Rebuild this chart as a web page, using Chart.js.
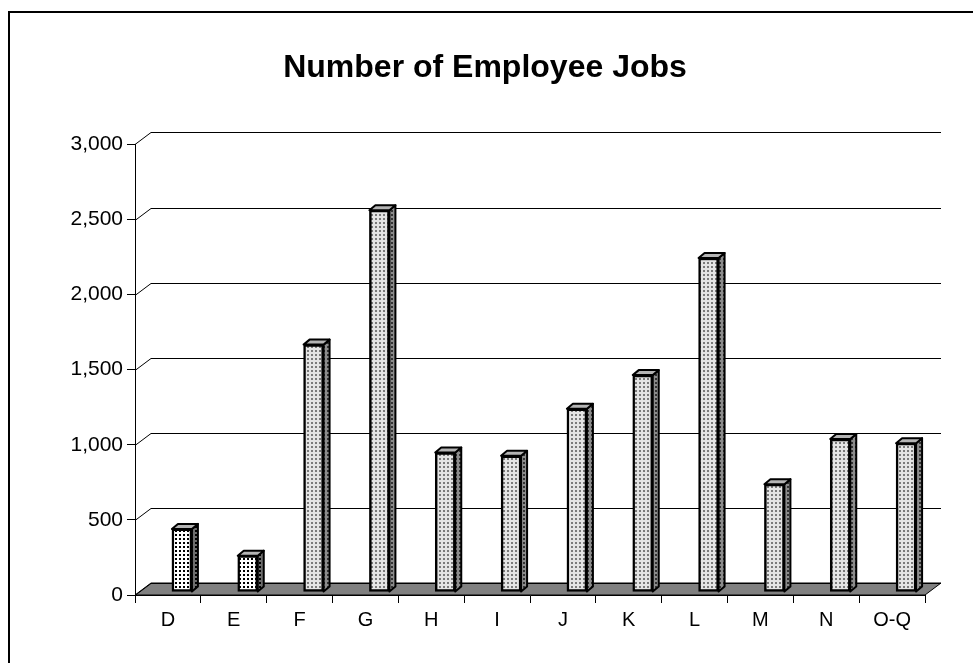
<!DOCTYPE html>
<html>
<head>
<meta charset="utf-8">
<script src="https://cdn.jsdelivr.net/npm/chart.js@4/dist/chart.umd.min.js"></script>
<style>
    html, body { margin: 0; padding: 0; background: #ffffff; }
    #wrap { width: 973px; height: 663px; position: relative; }
</style>
</head>
<body>
<div id="wrap"><canvas id="jobsChart"></canvas></div>
<script>
var categories = ['D', 'E', 'F', 'G', 'H', 'I', 'J', 'K', 'L', 'M', 'N', 'O-Q'];
var jobs = [420, 242, 1647, 2542, 929, 907, 1220, 1444, 2224, 718, 1018, 991];
var yTicks = [0, 500, 1000, 1500, 2000, 2500, 3000];
var coarseCategories = ['D', 'E'];

// 3d look: back wall offset, bar depth, bar shift
var WALL_DX = 16, WALL_DY = 12;
var BAR_DX = 6, BAR_DY = 5;
var SHIFT_X = 14, SHIFT_Y = -3;

document.addEventListener('DOMContentLoaded', function () {
    var canvas = document.getElementById('jobsChart');
    var ctx = canvas.getContext('2d');

    var coarseFront = makePattern('#ffffff', '#000000');
    var coarseSide = makePattern('#6e6e6e', '#000000');
    var fineFront = makePattern('#e4e4e4', '#7a7a7a');
    var fineSide = makePattern('#8c8c8c', '#333333');

    var fronts = categories.map(function (c) {
        return coarseCategories.indexOf(c) >= 0 ? coarseFront : fineFront;
    });
    var sides = categories.map(function (c) {
        return coarseCategories.indexOf(c) >= 0 ? coarseSide : fineSide;
    });

    var framePlugin = {
        id: 'frame',
        beforeDraw: function (chart) {
            var c = chart.ctx;
            c.save();
            c.strokeStyle = '#000000';
            c.lineWidth = 2;
            c.strokeRect(9, 12, 2000, 2000);
            c.restore();
        }
    };

    var wallPlugin = {
        id: 'wall3d',
        beforeDatasetsDraw: function (chart) {
            var c = chart.ctx;
            var a = chart.chartArea;
            var y = chart.scales.y;
            var y0 = y.getPixelForValue(0);

            c.save();
            c.fillStyle = '#808080';
            c.strokeStyle = '#000000';
            c.lineWidth = 1;
            c.beginPath();
            c.moveTo(a.left, y0);
            c.lineTo(a.left + WALL_DX, y0 - WALL_DY);
            c.lineTo(a.right + WALL_DX, y0 - WALL_DY);
            c.lineTo(a.right, y0);
            c.closePath();
            c.fill();
            c.stroke();

            yTicks.forEach(function (t) {
                var py = Math.round(y.getPixelForValue(t)) + 0.5;
                c.beginPath();
                c.moveTo(a.left, py);
                c.lineTo(a.left + WALL_DX, py - WALL_DY);
                c.lineTo(a.right + WALL_DX, py - WALL_DY);
                c.stroke();
            });
            c.restore();

            c.save();
            c.translate(SHIFT_X, SHIFT_Y);
        },
        afterDatasetsDraw: function (chart) {
            var c = chart.ctx;
            var meta = chart.getDatasetMeta(0);
            meta.data.forEach(function (bar, i) {
                var half = bar.width / 2;
                var left = bar.x - half, right = bar.x + half;
                var top = bar.y, bottom = bar.base;

                c.lineWidth = 2;
                c.lineJoin = 'round';
                c.strokeStyle = '#000000';

                c.fillStyle = sides[i];
                c.beginPath();
                c.moveTo(right, top);
                c.lineTo(right + BAR_DX, top - BAR_DY);
                c.lineTo(right + BAR_DX, bottom - BAR_DY);
                c.lineTo(right, bottom);
                c.closePath();
                c.fill();
                c.stroke();

                c.fillStyle = '#b4b4b4';
                c.beginPath();
                c.moveTo(left, top);
                c.lineTo(left + BAR_DX, top - BAR_DY);
                c.lineTo(right + BAR_DX, top - BAR_DY);
                c.lineTo(right, top);
                c.closePath();
                c.fill();
                c.stroke();
            });
            c.restore();
        }
    };

    new Chart(canvas, {
        type: 'bar',
        data: {
            labels: categories,
            datasets: [{
                label: 'Employee Jobs',
                data: jobs,
                backgroundColor: fronts,
                borderColor: '#000000',
                borderWidth: 2.5,
                borderSkipped: false,
                barThickness: 20
            }]
        },
        options: {
            responsive: true,
            maintainAspectRatio: false,
            animation: false,
            events: [],
            layout: {
                padding: { left: 45, right: 48, top: 0, bottom: 0 }
            },
            plugins: {
                legend: { display: false },
                tooltip: { enabled: false },
                title: {
                    display: true,
                    text: 'Number of Employee Jobs',
                    color: '#000000',
                    font: { family: 'Arial, "Liberation Sans", sans-serif', size: 32, weight: 'bold' },
                    padding: { top: 49, bottom: 57 }
                }
            },
            scales: {
                x: {
                    offset: true,
                    afterFit: function (scale) { scale.height = 68; },
                    grid: {
                        display: true,
                        offset: true,
                        drawOnChartArea: false,
                        drawTicks: true,
                        tickLength: 8,
                        color: '#000000'
                    },
                    border: { display: true, color: '#000000', width: 1 },
                    ticks: {
                        color: '#000000',
                        padding: 5,
                        maxRotation: 0,
                        font: { family: 'Arial, "Liberation Sans", sans-serif', size: 20 }
                    }
                },
                y: {
                    min: 0,
                    max: 3000,
                    afterFit: function (scale) { scale.width = 90; },
                    afterBuildTicks: function (scale) {
                        scale.ticks = yTicks.map(function (v) { return { value: v }; });
                    },
                    grid: {
                        display: true,
                        drawOnChartArea: false,
                        drawTicks: true,
                        tickLength: 8,
                        color: '#000000'
                    },
                    border: { display: true, color: '#000000', width: 1 },
                    ticks: {
                        color: '#000000',
                        padding: 4,
                        font: { family: 'Arial, "Liberation Sans", sans-serif', size: 21 },
                        callback: function (value) {
                            return value.toLocaleString('en-US');
                        }
                    }
                }
            }
        },
        plugins: [framePlugin, wallPlugin]
    });

    function makePattern(bg, dot) {
        var p = document.createElement('canvas');
        p.width = 4;
        p.height = 4;
        var g = p.getContext('2d');
        g.fillStyle = bg;
        g.fillRect(0, 0, 4, 4);
        g.fillStyle = dot;
        g.fillRect(1, 1, 2, 2);
        return ctx.createPattern(p, 'repeat');
    }
});
</script>
</body>
</html>
